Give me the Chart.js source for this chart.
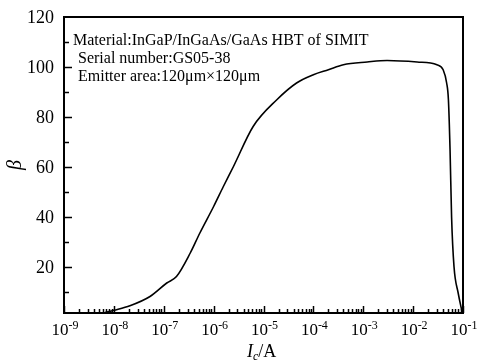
<!DOCTYPE html>
<html>
<head>
<meta charset="utf-8">
<script src="https://cdn.jsdelivr.net/npm/chart.js@4/dist/chart.umd.min.js"></script>
<style>
  body { margin: 0; background: #fff; }
  #wrap { width: 480px; height: 361px; }
</style>
</head>
<body>
<div id="wrap"><canvas id="myChart"></canvas></div>
<script>
// collector current (A) and current gain
const currentA = [6.6e-9, 1.0e-8, 2.1e-8, 5.3e-8, 1.15e-7, 1.8e-7, 3.4e-7, 5.3e-7, 1.0e-6, 1.55e-6,
  2.5e-6, 6.2e-6, 1.85e-5, 4.6e-5, 1.0e-4, 2.0e-4, 4.0e-4, 1.2e-3, 3.0e-3, 1.2e-2,
  3.0e-2, 4.0e-2, 4.7e-2, 5.1e-2, 5.5e-2, 5.9e-2, 6.6e-2, 8.0e-2, 9.7e-2];
const beta = [1.8, 2.7, 4.5, 8.2, 13.6, 16.2, 25.6, 33.6, 44.2, 52,
  60.2, 76.2, 86.9, 93.6, 96.9, 98.9, 100.9, 102, 102.6, 102,
  100.9, 98.9, 93.6, 86.9, 66.9, 40.2, 20.2, 9.6, 1.6];

const xExponents = [-9, -8, -7, -6, -5, -4, -3, -2, -1];
const yTicks = [20, 40, 60, 80, 100, 120];
const notes = [
  "Material:InGaP/InGaAs/GaAs HBT of SIMIT",
  "Serial number:GS05-38",
  "Emitter area:120\u03bcm\u00d7120\u03bcm"
];

const serif = '"Liberation Serif", "Times New Roman", serif';

// frame, inward ticks, labels and titles
const decor = {
  id: 'decor',
  afterDraw(chart) {
    const ctx = chart.ctx;
    const area = chart.chartArea;
    const xs = chart.scales.x;
    const ys = chart.scales.y;
    ctx.save();
    ctx.strokeStyle = '#000';
    ctx.fillStyle = '#000';

    ctx.lineWidth = 2;
    ctx.strokeRect(area.left, area.top, area.right - area.left, area.bottom - area.top);

    // y ticks
    ctx.lineWidth = 1.5;
    for (let v = 10; v < 120; v += 10) {
      const y = Math.round(ys.getPixelForValue(v)) + 0.5;
      const len = v % 20 === 0 ? 8 : 5;
      ctx.beginPath();
      ctx.moveTo(area.left, y);
      ctx.lineTo(area.left + len, y);
      ctx.stroke();
    }
    // x ticks
    xExponents.forEach(function (e) {
      for (let k = 1; k <= 9; k++) {
        const v = k * Math.pow(10, e);
        if (v > 0.1 * 1.0001) break;
        const x = Math.round(xs.getPixelForValue(v)) + 0.5;
        const len = k === 1 ? 7 : 4;
        ctx.beginPath();
        ctx.moveTo(x, area.bottom);
        ctx.lineTo(x, area.bottom - len);
        ctx.stroke();
      }
    });

    // y tick labels
    ctx.font = '18px ' + serif;
    ctx.textAlign = 'right';
    ctx.textBaseline = 'alphabetic';
    yTicks.forEach(function (v) {
      ctx.fillText(String(v), 54, ys.getPixelForValue(v) + 6);
    });

    // x tick labels: 10 with superscript exponent
    xExponents.forEach(function (e) {
      const x = xs.getPixelForValue(Math.pow(10, e));
      ctx.font = '17px ' + serif;
      const wb = ctx.measureText('10').width;
      ctx.font = '12px ' + serif;
      const sup = '-' + Math.abs(e);
      const we = ctx.measureText(sup).width;
      const left = x - (wb + we) / 2 + 1;
      ctx.textAlign = 'left';
      ctx.font = '17px ' + serif;
      ctx.fillText('10', left, 335);
      ctx.font = '12px ' + serif;
      ctx.fillText(sup, left + wb, 329);
    });

    // axis titles
    ctx.textAlign = 'left';
    ctx.font = 'italic 18px ' + serif;
    ctx.fillText('I', 247, 357);
    const wi = ctx.measureText('I').width;
    ctx.font = 'italic 12px ' + serif;
    ctx.fillText('c', 247 + wi, 360);
    const wc = ctx.measureText('c').width;
    ctx.font = '18px ' + serif;
    ctx.fillText('/A', 247 + wi + wc, 357);

    ctx.save();
    ctx.translate(21, 165);
    ctx.rotate(-Math.PI / 2);
    ctx.textAlign = 'center';
    ctx.font = 'italic 20px ' + serif;
    ctx.fillText('\u03b2', 0, 0);
    ctx.restore();

    // annotation
    ctx.font = '16px ' + serif;
    ctx.fillText(notes[0], 73, 45);
    ctx.fillText(notes[1], 78, 63);
    ctx.fillText(notes[2], 78, 81);
    ctx.restore();
  }
};

const ctx = document.getElementById('myChart').getContext('2d');
const chart = new Chart(ctx, {
  type: 'line',
  data: {
    datasets: [{
      data: currentA.map((c, i) => ({ x: c, y: beta[i] })),
      borderColor: '#000',
      borderWidth: 1.6,
      pointRadius: 0,
      fill: false,
      cubicInterpolationMode: 'monotone'
    }]
  },
  options: {
    responsive: true,
    maintainAspectRatio: false,
    animation: false,
    layout: { padding: { left: 64, right: 17, top: 17, bottom: 48 } },
    plugins: { legend: { display: false }, tooltip: { enabled: false } },
    scales: {
      x: { type: 'logarithmic', min: 1e-9, max: 1e-1, display: false },
      y: { type: 'linear', min: 1.6, max: 120, display: false }
    }
  },
  plugins: [decor]
});
</script>
</body>
</html>
